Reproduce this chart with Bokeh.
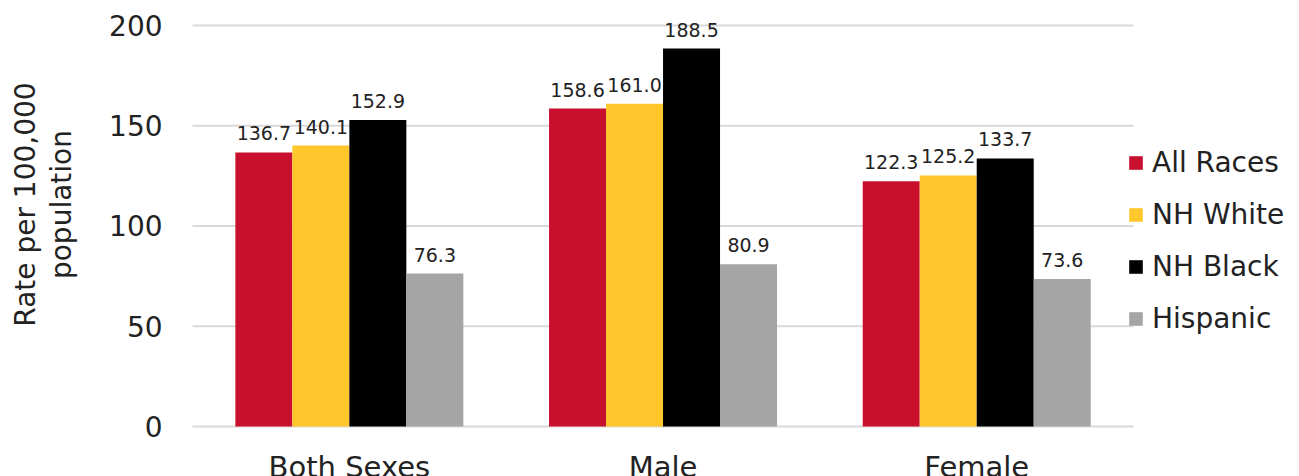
from bokeh.plotting import figure
from bokeh.models import (ColumnDataSource, Range1d, Legend, LegendItem, Label,
                          LabelSet, FixedTicker)
from bokeh.core.properties import value
from bokeh.embed import file_html
from bokeh.resources import INLINE

categories = ["Both Sexes", "Male", "Female"]
series = ["All Races", "NH White", "NH Black", "Hispanic"]
all_races = [136.7, 158.6, 122.3]
nh_white = [140.1, 161.0, 125.2]
nh_black = [152.9, 188.5, 133.7]
hispanic = [76.3, 80.9, 73.6]
y_ticks = [0, 50, 100, 150, 200]
y_label_lines = ["Rate per 100,000", "population"]

colors = ["#C8102E", "#FFC72C", "#000000", "#A5A5A5"]
FONT = "DejaVu Sans"
TEXT = "#222222"
BAR_W = 0.1817
CAT_Y = -20.0          # baseline of category labels (data units, below zero)
YLABEL_X = [25, 61]    # screen x of the two y-title lines
YLABEL_Y = 110.7       # data y of the y-title centre

p = figure(width=1299, height=476,
           x_range=Range1d(-0.6121, 3.529), y_range=Range1d(-24.94, 212.47),
           x_axis_location=None,
           output_backend="svg", toolbar_location=None,
           min_border_left=0, min_border_right=0,
           min_border_top=0, min_border_bottom=0)
p.outline_line_color = None
p.background_fill_color = "white"

# y axis pinned at x = 0 inside the plot area
p.yaxis.fixed_location = 0
p.yaxis.ticker = FixedTicker(ticks=y_ticks)
p.yaxis.axis_line_color = None
p.yaxis.major_tick_line_color = None
p.yaxis.minor_tick_line_color = None
p.yaxis.major_tick_out = 0
p.yaxis.major_tick_in = 0
p.yaxis.minor_tick_out = 0
p.yaxis.minor_tick_in = 0
p.yaxis.major_label_standoff = 30
p.yaxis.major_label_text_font = FONT
p.yaxis.major_label_text_font_size = "28px"
p.yaxis.major_label_text_color = TEXT
for g in p.grid:
    g.grid_line_color = None

# horizontal grid lines spanning the three categories
p.segment(x0=[0] * len(y_ticks), x1=[len(categories)] * len(y_ticks),
          y0=y_ticks, y1=y_ticks, line_color="#D9D9D9", line_width=2)

data_series = [all_races, nh_white, nh_black, hispanic]
items = []
for j, (name, vals, col) in enumerate(zip(series, data_series, colors)):
    xs = [i + 0.5 + (j - 1.5) * BAR_W for i in range(len(categories))]
    src = ColumnDataSource(dict(x=xs, top=vals, lbl=[f"{v:.1f}" for v in vals]))
    r = p.vbar(x="x", top="top", width=BAR_W, bottom=0, source=src,
               fill_color=col, line_color=None)
    items.append(LegendItem(label=name, renderers=[r]))
    ls = LabelSet(x="x", y="top", text="lbl", source=src, y_offset=12,
                  text_align="center", text_baseline="alphabetic",
                  text_font=value(FONT), text_font_size="19px", text_color=TEXT)
    p.add_layout(ls)

# category labels
p.text(x=[i + 0.5 for i in range(len(categories))], y=[CAT_Y] * len(categories),
       text=categories, text_align="center", text_baseline="alphabetic",
       text_font=value(FONT), text_font_size="29px", text_color=TEXT)

# y axis title (two lines, rotated)
for line, xs in zip(y_label_lines, YLABEL_X):
    p.add_layout(Label(x=xs, y=YLABEL_Y, x_units="screen", y_units="data", text=line,
                       angle=1.5707963267948966, text_align="center",
                       text_baseline="alphabetic", text_font=FONT,
                       text_font_size="28px", text_color=TEXT))

legend = Legend(items=items, location=(1127, 141), orientation="vertical",
                glyph_width=17, glyph_height=17, label_standoff=8, spacing=19,
                padding=0, margin=0, border_line_color=None,
                background_fill_alpha=0,
                label_text_font=FONT, label_text_font_size="28px",
                label_text_color=TEXT)
p.add_layout(legend, "center")

open("out.html", "w").write(file_html(p, INLINE))
